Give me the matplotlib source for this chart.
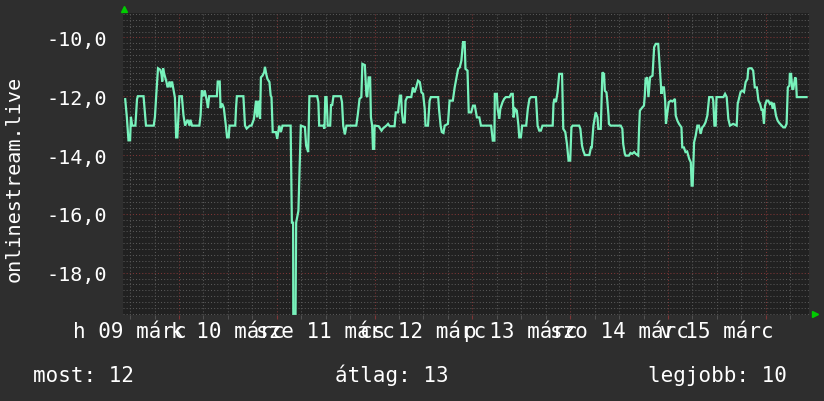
import numpy as np
import matplotlib.pyplot as plt
from matplotlib.lines import Line2D
from matplotlib.ticker import MultipleLocator, NullFormatter, FuncFormatter

plt.rcParams['font.family'] = ['DejaVu Sans Mono']

# hours since 2020-03-09 00:00, rank shown negated (higher = better)
hours = [10.8, 11.2, 11.6, 12.0, 12.2, 12.5, 13.3, 13.7, 13.9, 15.3, 15.9, 17.8,
         18.1, 18.4, 18.85, 19.4, 19.7, 19.9, 20.1, 20.4, 20.9, 21.2, 21.7, 21.9,
         22.3, 23.0, 23.3, 23.6, 24.1, 24.7, 25.1, 25.5, 26.1, 26.6, 26.8, 27.2,
         29.0, 29.3, 29.6, 30.0, 30.3, 30.9, 31.1, 31.4, 33.3, 33.5, 34.0, 34.2,
         34.6, 35.0, 35.5, 35.8, 36.2, 36.4, 37.8, 38.0, 38.2, 39.8, 40.2, 40.6,
         41.4, 41.8, 42.4, 42.9, 43.2, 43.5, 43.9, 44.1, 44.5, 44.9, 45.1, 45.4,
         45.7, 46.2, 46.5, 46.7, 47.0, 47.8, 48.1, 48.6, 49.0, 49.4, 51.4, 51.7,
         52.0, 52.05, 52.6, 52.75, 53.3, 53.9, 54.9, 55.2, 55.7, 56.0, 57.9, 58.2,
         58.4, 59.4, 59.7, 59.9, 60.2, 60.5, 61.1, 61.3, 61.6, 61.9, 63.7, 64.0,
         64.3, 64.7, 65.1, 67.5, 67.9, 68.3, 68.75, 69.0, 69.6, 70.0, 70.2, 70.55,
         70.9, 71.1, 71.4, 71.6, 71.9, 72.0, 73.0, 73.7, 74.1, 74.9, 75.3, 75.7,
         76.9, 77.2, 77.75, 78.2, 78.5, 78.7, 79.0, 79.4, 79.6, 80.0, 81.0, 81.4,
         81.8, 82.2, 82.65, 83.1, 83.5, 83.9, 84.3, 84.5, 85.1, 85.5, 85.8, 87.6,
         87.8, 88.2, 88.5, 88.9, 89.2, 90.0, 90.4, 91.2, 91.65, 92.1, 92.5, 92.9,
         93.3, 93.7, 94.1, 94.3, 94.8, 95.1, 95.7, 96.15, 96.6, 97.1, 97.7, 98.1,
         100.6, 101.0, 101.4, 101.5, 102.0, 102.2, 102.6, 102.85, 103.4, 103.8, 104.2, 105.1,
         105.5, 105.9, 106.1, 106.5, 106.9, 107.3, 107.5, 107.9, 108.2, 109.2, 109.6, 110.0,
         110.4, 111.6, 112.0, 112.4, 112.8, 113.2, 115.7, 115.9, 116.1, 116.5, 116.9, 117.3,
         118.0, 118.3, 118.8, 119.2, 119.6, 120.0, 120.3, 120.6, 122.2, 122.5, 122.9, 123.2,
         123.6, 124.7, 125.1, 125.3, 125.7, 126.25, 126.7, 126.9, 127.5, 127.6, 127.9, 128.3,
         128.5, 128.9, 129.1, 129.4, 129.5, 129.9, 132.4, 132.8, 133.0, 133.4, 133.6, 134.4,
         134.8, 135.2, 135.7, 136.1, 136.7, 136.9, 137.1, 137.7, 138.1, 138.3, 138.5, 138.9,
         139.2, 139.6, 140.2, 140.6, 141.0, 141.6, 142.0, 142.4, 142.6, 143.0, 143.3, 143.5,
         143.8, 144.2, 144.7, 145.1, 145.7, 145.9, 146.3, 146.7, 147.3, 147.5, 147.9, 148.3,
         148.7, 149.2, 149.6, 149.8, 150.05, 150.4, 150.8, 151.2, 151.6, 152.0, 152.4, 152.8,
         153.2, 153.65, 154.1, 154.9, 155.1, 155.4, 155.7, 155.9, 157.6, 158.0, 158.4, 158.8,
         159.2, 160.0, 160.85, 161.1, 161.5, 161.8, 162.2, 162.65, 163.05, 163.5, 163.7, 164.0,
         164.5, 164.9, 165.3, 165.8, 166.2, 166.6, 167.0, 167.2, 167.55, 167.8, 168.2, 168.6,
         169.0, 169.4, 169.7, 170.0, 170.5, 170.9, 171.3, 171.9, 172.3, 172.7, 173.1, 173.4,
         173.8, 173.9, 174.2, 174.5, 174.75, 175.2, 175.4, 175.6, 178.0]
rank = [-12.1, -12.7, -13.5, -13.5, -12.7, -13.0, -13.0, -12.1, -12.0, -12.0, -13.0, -13.0,
        -12.7, -12.0, -11.05, -11.1, -11.25, -11.5, -11.05, -11.25, -11.5, -11.7, -11.5, -11.7,
        -11.5, -12.05, -13.4, -13.4, -12.0, -12.0, -12.65, -13.0, -12.8, -13.0, -12.8, -13.0,
        -13.0, -12.65, -11.8, -12.0, -11.8, -12.2, -12.4, -12.0, -12.0, -11.5, -11.5, -12.4,
        -12.25, -12.4, -13.0, -13.4, -13.4, -13.0, -13.0, -12.4, -12.0, -12.0, -13.0, -13.1,
        -13.0, -13.0, -12.77, -12.15, -12.72, -12.15, -12.77, -11.36, -11.3, -11.18, -11.0, -11.24,
        -11.41, -11.52, -11.98, -12.03, -13.22, -13.22, -13.45, -13.0, -13.22, -13.0, -13.0, -16.3,
        -16.3, -19.4, -19.4, -16.3, -15.9, -13.0, -13.05, -13.68, -13.9, -12.0, -12.0, -12.2,
        -13.0, -13.0, -13.1, -12.03, -12.03, -13.0, -13.0, -12.3, -12.3, -12.0, -12.0, -12.2,
        -13.0, -13.3, -13.0, -13.0, -12.6, -12.09, -12.03, -10.9, -10.94, -11.98, -12.03, -11.36,
        -11.36, -12.72, -13.0, -13.79, -13.79, -13.0, -13.02, -13.17, -13.09, -13.0, -12.94, -13.02,
        -13.02, -12.55, -12.55, -11.98, -11.98, -12.55, -12.89, -12.89, -12.15, -12.03, -12.03, -11.7,
        -11.87, -11.7, -11.47, -11.52, -11.87, -11.92, -12.43, -13.0, -13.0, -12.15, -12.03, -12.03,
        -12.43, -13.0, -13.22, -13.25, -13.0, -12.94, -12.15, -12.15, -11.7, -11.36, -11.07, -11.02,
        -10.79, -10.16, -10.16, -11.07, -11.13, -12.55, -12.55, -12.32, -12.32, -12.72, -12.72, -13.0,
        -13.0, -13.51, -13.51, -11.92, -11.92, -12.43, -12.77, -12.43, -12.2, -12.09, -12.03, -12.03,
        -11.92, -11.92, -12.72, -12.43, -12.49, -13.0, -13.4, -13.4, -13.0, -13.0, -12.43, -12.09,
        -12.03, -12.03, -13.0, -13.17, -13.17, -13.0, -13.0, -12.26, -12.09, -12.2, -11.86, -11.24,
        -11.24, -13.11, -13.22, -13.62, -14.19, -14.19, -13.06, -13.0, -13.0, -13.11, -13.68, -13.85,
        -14.0, -14.0, -13.74, -13.74, -13.0, -12.55, -12.72, -13.11, -13.11, -12.6, -11.19, -11.24,
        -11.81, -11.87, -12.15, -12.66, -12.94, -13.0, -13.0, -13.11, -13.62, -13.96, -14.02, -14.02,
        -13.93, -13.96, -13.9, -13.96, -14.02, -13.11, -12.49, -12.38, -12.32, -11.98, -11.41, -11.36,
        -12.03, -11.36, -11.3, -10.33, -10.22, -10.22, -11.07, -11.92, -11.7, -11.7, -12.15, -12.94,
        -12.6, -12.2, -12.15, -12.18, -12.09, -12.66, -12.83, -12.94, -13.06, -13.74, -13.74, -13.9,
        -13.88, -14.13, -14.25, -15.04, -15.04, -13.57, -13.34, -13.0, -13.0, -13.28, -13.06, -13.0,
        -12.89, -12.66, -12.03, -12.03, -12.15, -13.0, -13.0, -12.03, -12.03, -11.92, -12.03, -12.77,
        -13.0, -12.94, -13.0, -12.26, -12.03, -11.86, -11.81, -11.86, -11.52, -11.41, -11.07, -11.05,
        -11.05, -11.13, -11.7, -11.7, -12.15, -12.26, -12.49, -12.43, -12.94, -12.32, -12.15, -12.15,
        -12.26, -12.2, -12.43, -12.23, -12.66, -12.83, -12.91, -13.0, -13.06, -13.06, -12.94, -11.7,
        -11.64, -11.24, -11.24, -11.75, -11.75, -11.36, -11.41, -12.03, -12.03]

day_labels = ["h 09 márc", "k 10 márc", "sze 11 márc", "cs 12 márc",
              "p 13 márc", "szo 14 márc", "v 15 márc"]
label_hours = [12, 36, 60, 84, 108, 132, 156]
y_label = "onlinestream.live"
legend_items = ["most: 12", "átlag: 13", "legjobb: 10"]

W, H = 824, 402
fig = plt.figure(figsize=(W / 100, H / 100), dpi=100, facecolor='#2e2e2e')
ax = fig.add_axes([123 / W, 1 - 316 / H, (809 - 123) / W, (316 - 14) / H])
ax.set_facecolor('#212121')

ax.set_xlim(10.26, 178.6)
ax.set_ylim(-19.44, -9.17)

ax.xaxis.set_major_locator(MultipleLocator(24))
ax.xaxis.set_minor_locator(MultipleLocator(6))
ax.yaxis.set_major_locator(MultipleLocator(2))
ax.yaxis.set_minor_locator(MultipleLocator(0.2))
ax.xaxis.set_major_formatter(NullFormatter())
ax.yaxis.set_major_formatter(FuncFormatter(lambda v, p: f"{v:.1f}".replace('.', ',')))

ax.grid(which='minor', color='#585858', lw=0.75, ls=(0, (1, 2)))
ax.grid(which='major', color='#7e3636', lw=0.75, ls=(0, (1, 2)))
ax.set_axisbelow(True)

ax.tick_params(axis='y', which='major', length=0, pad=11.5, labelsize=14.5, labelcolor='white')
ax.tick_params(axis='y', which='minor', length=0)
ax.tick_params(axis='x', which='major', length=3, color='#7e3636', direction='out')
ax.tick_params(axis='x', which='minor', length=3, color='#585858', direction='out')
for s in ax.spines.values():
    s.set_visible(False)

ax.plot(hours, rank, color='#78f2bc', lw=1.6, solid_joinstyle='miter')

# day labels, centred at noon (baseline ~338 px)
for h, lab in zip(label_hours, day_labels):
    ax.text(h, -22 / 302, lab, transform=ax.get_xaxis_transform(), ha='center', va='baseline',
            fontsize=15, color='white')

fig.text(14 / W, 1 - 179 / H, y_label, rotation=90, ha='center', va='center',
         fontsize=14.5, color='white')

for x, txt in zip([33, 335, 648], legend_items):
    fig.text(x / W, 1 - 382 / H, txt, ha='left', va='baseline', fontsize=15, color='white')

# axis arrows
fig.add_artist(Line2D([124 / W], [1 - 10 / H], marker='^', markersize=4, color='#00cc00',
                      transform=fig.transFigure))
fig.add_artist(Line2D([815 / W], [1 - 315 / H], marker='>', markersize=4, color='#00cc00',
                      transform=fig.transFigure))

fig.savefig('out.png', dpi=100, facecolor=fig.get_facecolor())
